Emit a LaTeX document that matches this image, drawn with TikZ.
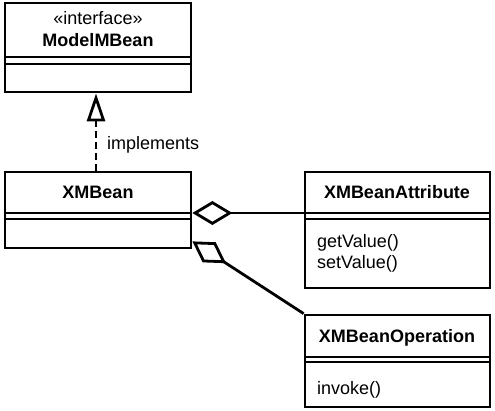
\documentclass[tikz,border=0pt]{standalone}
\usepackage{fontspec}
\setmainfont{Liberation Sans}
\usetikzlibrary{arrows.meta}

\begin{document}
\begin{tikzpicture}[x=1pt, y=-1pt, font=\fontsize{18}{21}\selectfont,
		classbox/.style={draw, line width=2.8pt, inner sep=0pt},
		sepline/.style={line width=1.2pt},
		txt/.style={inner sep=0pt},
		realization/.style={line width=2.8pt, dash pattern=on 7pt off 4pt, -{Triangle[open, length=28pt, width=18pt]}},
		aggregation/.style={line width=2.8pt, -{Diamond[open, length=40pt, width=24pt]}}]
		\useasboundingbox (0,0) rectangle (495,411);

		%Classes
		\node[classbox, minimum width=186pt, minimum height=89pt] (modelmbean) at (98,47.5) {};
		\node[classbox, minimum width=186pt, minimum height=76pt] (xmbean) at (98,210) {};
		\node[classbox, minimum width=185pt, minimum height=116pt] (attr) at (397.5,230) {};
		\node[classbox, minimum width=185pt, minimum height=92pt] (oper) at (397.5,361) {};

		%compartments
		\foreach \n/\ya/\yb in {modelmbean/57/64, xmbean/213/219, attr/213/219, oper/357/362} {
			\draw[sepline] (\n.west |- 0,\ya) -- (\n.east |- 0,\ya);
			\draw[sepline] (\n.west |- 0,\yb) -- (\n.east |- 0,\yb);
		}

		%Names
		\node[txt, anchor=base] (interfacelbl) at (98,25) {«interface»};
		\node[txt, anchor=base] (modelmbeanlbl) at (98,47) {\textbf{ModelMBean}};
		\node[txt, anchor=base] (xmbeanlbl) at (98,199) {\textbf{XMBean}};
		\node[txt, anchor=base] (attrlbl) at (397,199) {\textbf{XMBeanAttribute}};
		\node[txt, anchor=base] (operlbl) at (397,343) {\textbf{XMBeanOperation}};

		%Operations
		\node[txt, anchor=base west] (getvalue) at (317,248) {getValue()};
		\node[txt, anchor=base west] (setvalue) at (317,269) {setValue()};
		\node[txt, anchor=base west] (invoke) at (317,394) {invoke()};

		%connections
		\coordinate (real) at ([xshift=-2pt]xmbean.north);
		\draw[realization] (real) -- (real |- modelmbean.south);
		\node[txt, anchor=base west] (implements) at (107,150) {implements};
		\coordinate (aggr1) at ([yshift=-3pt]xmbean.east);
		\draw[aggregation] (attr.west |- aggr1) -- (aggr1);
		\coordinate (aggr2) at ([yshift=8pt]xmbean.south east);
		\draw[aggregation] (oper.north west) -- (aggr2);

	\end{tikzpicture}
\end{document}
